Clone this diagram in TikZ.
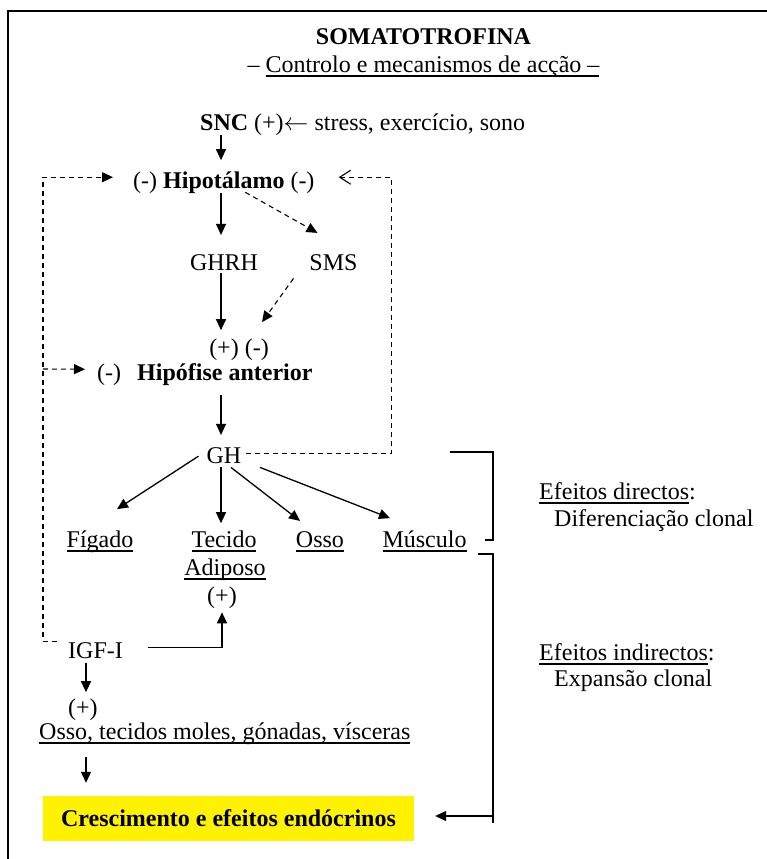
\documentclass[tikz,border=0pt]{standalone}
\usepackage{fontspec}
\setmainfont{Liberation Serif}
\usetikzlibrary{arrows.meta}
\tikzset{
	txt/.style={inner sep=0pt},
	arr/.style={line width=1.3pt,-{Triangle[length=11pt,width=10pt]}},
	tarr/.style={arr,line width=1.1pt,dash pattern=on 5pt off 4pt},
	barb/.style={line width=1.1pt,dash pattern=on 5pt off 4pt,-{Straight Barb[length=11pt,width=14pt,line width=1.1pt]}},
	chave/.style={line width=1.6pt},
	caixa/.style={fill=yellow,inner sep=0pt,minimum width=371pt,minimum height=45pt}
}
\newcommand{\sublinha}[1]{\setbox0=\hbox{#1}\rlap{\rule[-4.5pt]{\wd0}{1.9pt}}\box0}

\begin{document}
\begin{tikzpicture}[x=1pt,y=-1pt,font=\fontsize{24}{28}\selectfont]
\useasboundingbox (0,0) rectangle (767,859);
\draw[line width=2pt] (8,870) -- (8,11) -- (780,11);
\node[txt,anchor=base] (titulo) at (423.5,45) {\bfseries SOMATOTROFINA};
\node[txt,anchor=base] (subtitulo) at (423.5,72) {– \sublinha{Controlo e mecanismos de acção –}};
\node[txt,anchor=base west] (snc) at (200,130) {\bfseries SNC};
\node[txt,anchor=base west] (estimulos) at (254,130) {(+)$\leftarrow$ stress, exercício, sono};
\node[txt,anchor=base west] (hipot) at (133,188) {(-) \textbf{Hipotálamo} (-)};
\node[txt,anchor=base] (ghrh) at (224,270) {GHRH};
\node[txt,anchor=base] (sms) at (333.5,270) {SMS};
\node[txt,anchor=base] (sinais) at (239,355) {(+) (-)};
\node[txt,anchor=base west] (menos) at (97,380) {(-)};
\node[txt,anchor=base west] (hipof) at (137,380) {\bfseries Hipófise anterior};
\node[txt,anchor=base] (gh) at (224,463) {GH};
\node[txt,anchor=base] (figado) at (100,547) {\sublinha{Fígado}};
\node[txt,anchor=base] (tecido) at (224,547) {\sublinha{Tecido}};
\node[txt,anchor=base] (adiposo) at (225,575) {\sublinha{Adiposo}};
\node[txt,anchor=base] (maisa) at (222,603) {(+)};
\node[txt,anchor=base] (osso) at (320,547) {\sublinha{Osso}};
\node[txt,anchor=base] (musculo) at (424.5,547) {\sublinha{Músculo}};
\node[txt,anchor=base west] (igf) at (68,658) {IGF-I};
\node[txt,anchor=base west] (maisb) at (68,715) {(+)};
\node[txt,anchor=base west] (orgaos) at (39,739) {\sublinha{Osso, tecidos moles, gónadas, vísceras}};
\node[caixa] (cresc) at (228.5,818.5) {\bfseries Crescimento e efeitos endócrinos\hspace{6pt}};
\node[txt,anchor=base west] (directos) at (539,499) {\sublinha{Efeitos directos}:};
\node[txt,anchor=base west] (difer) at (554,526) {Diferenciação clonal};
\node[txt,anchor=base west] (indirectos) at (539,660) {\sublinha{Efeitos indirectos}:};
\node[txt,anchor=base west] (expansao) at (554,686) {Expansão clonal};
\coordinate (meio) at (221,0);
\coordinate (esq) at (86,0);
\coordinate (laco) at (43,369);
\coordinate (seta) at (493,816);
\draw[arr,shorten <=5pt,shorten >=11pt] (meio |- snc.south) -- (meio |- hipot.north);
\draw[arr,shorten >=19pt] (meio |- hipot.south) -- (meio |- ghrh.north);
\draw[arr,shorten <=3pt,shorten >=8pt] (meio |- ghrh.south) -- (meio |- sinais.north);
\draw[arr,shorten <=10pt,shorten >=12pt] (meio |- hipof.south) -- (meio |- gh.north);
\draw[arr,shorten <=4pt,shorten >=7pt] (meio |- gh.south) -- (meio |- tecido.north);
\draw[arr] ([shift={(-8,1)}]gh.west) -- ([shift={(17,-21)}]figado.north);
\draw[arr] ([shift={(7,4)}]gh.south) -- ([shift={(-20,-10)}]osso.north);
\draw[arr] ([shift={(36,4)}]gh.south) -- ([shift={(-34.5,-12)}]musculo.north);
\draw[tarr] ([shift={(21.5,-1)}]hipot.south) -- ([shift={(-16,-21)}]sms.north);
\draw[tarr] ([shift={(-40,8)}]sms.south) -- ([shift={(23,-16)}]sinais.north);
\draw[tarr] ([shift={(-11,-9)}]igf.west) -| (laco) |- ([shift={(-20,-5)}]hipot.west);
\draw[tarr] (laco) -- ([shift={(-12,-5)}]menos.west);
\draw[barb] ([shift={(4,-2)}]gh.east) -- ++(146,0) |- ([shift={(24,-5)}]hipot.east);
\draw[arr] ([shift={(25,-3)}]igf.east) -| ([yshift=-4pt]maisa.south);
\draw[arr,shorten <=5pt,shorten >=6pt] (esq |- igf.south) -- (esq |- maisb.north);
\draw[arr,shorten <=13pt,shorten >=13pt] (esq |- orgaos.south) -- (esq |- cresc.north);
\draw[chave] (450,452) -| (493,540) -- ++(-8,0);
\draw[chave] (478,554) -| (493,823);
\draw[arr] (seta) -- ([shift={(21,-2.5)}]cresc.east);
\end{tikzpicture}
\end{document}
